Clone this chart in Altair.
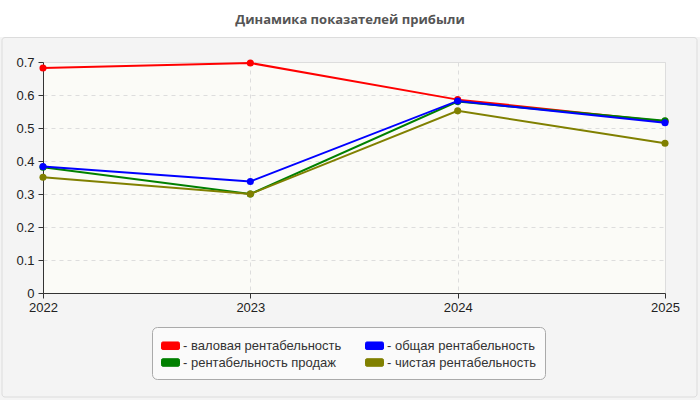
import altair as alt
import pandas as pd

years = [2022, 2023, 2024, 2025]
series_names = [
    "валовая рентабельность",
    "общая рентабельность",
    "рентабельность продаж",
    "чистая рентабельность",
]
series_colors = ["#ff0000", "#0000ff", "#008000", "#808000"]
gross = [0.682, 0.697, 0.586, 0.520]
overall = [0.383, 0.338, 0.582, 0.516]
sales = [0.381, 0.300, 0.580, 0.522]
net = [0.351, 0.300, 0.552, 0.454]
y_ticks = [0, 0.1, 0.2, 0.3, 0.4, 0.5, 0.6, 0.7]
title_text = "Динамика показателей прибыли"

values = {
    series_names[0]: gross,
    series_names[1]: overall,
    series_names[2]: sales,
    series_names[3]: net,
}
rows = []
for name, vals in values.items():
    for yr, v in zip(years, vals):
        rows.append({"year": yr, "value": v, "series": name})
df = pd.DataFrame(rows)

W, H = 622, 231
PL, PT = 43, 62

color = alt.Color(
    "series:N",
    scale=alt.Scale(domain=series_names, range=series_colors),
    legend=alt.Legend(
        title=None,
        orient="none",
        legendX=109,
        legendY=265,
        columns=2,
        direction="horizontal",
        labelExpr="'- ' + datum.label",
        labelFont="Liberation Sans",
        labelFontSize=13,
        labelColor="#333333",
        labelOffset=3,
        symbolType="M-0.85,-0.42 L0.85,-0.42 Q1,-0.42 1,-0.25 L1,0.25 Q1,0.42 0.85,0.42 L-0.85,0.42 Q-1,0.42 -1,0.25 L-1,-0.25 Q-1,-0.42 -0.85,-0.42 Z",
        symbolSize=324,
        symbolStrokeWidth=1,
        symbolOpacity=1,
        columnPadding=21,
        rowPadding=0,
        padding=9,
        fillColor="#fafafa",
        strokeColor="#aaaaaa",
        cornerRadius=5,
    ),
)

x = alt.X(
    "year:O",
    scale=alt.Scale(padding=0),
    axis=alt.Axis(
        title=None,
        labelAngle=0,
        labelFont="Liberation Sans",
        labelFontSize=13,
        labelColor="#222222",
        labelPadding=3,
        tickSize=5,
        tickColor="#333333",
        domainColor="#333333",
        grid=True,
        gridDash=[4, 4],
        gridColor="#dddddd",
    ),
)
y = alt.Y(
    "value:Q",
    scale=alt.Scale(domain=[0, 0.7], nice=False),
    axis=alt.Axis(
        title=None,
        values=y_ticks,
        format=".1~f",
        labelFont="Liberation Sans",
        labelFontSize=13,
        labelColor="#222222",
        labelPadding=4,
        tickSize=5,
        tickColor="#333333",
        domainColor="#333333",
        grid=True,
        gridDash=[4, 4],
        gridColor="#dddddd",
    ),
)

one = pd.DataFrame({"a": [0]})
top_band = alt.Chart(one).mark_rect(color="white").encode(
    x=alt.value(-PL), x2=alt.value(700 - PL), y=alt.value(-PT), y2=alt.value(-25)
)
frame = alt.Chart(one).mark_rect(
    fill="transparent", stroke="#dcdcdc", strokeWidth=1, cornerRadius=3
).encode(
    x=alt.value(-41), x2=alt.value(654), y=alt.value(-24.5), y2=alt.value(335)
)
title = alt.Chart(one).mark_text(
    text=title_text,
    font="Open Sans",
    fontSize=13,
    fontWeight="bold",
    color="#555555",
    align="center",
    baseline="middle",
).encode(x=alt.value(350 - PL), y=alt.value(20 - PT))

draw_order = [series_names[0], series_names[2], series_names[3], series_names[1]]
layers = [top_band, frame, title]
for name in draw_order:
    sub = alt.Chart(df).transform_filter(alt.datum.series == name)
    layers.append(sub.mark_line(strokeWidth=2).encode(x=x, y=y, color=color))
    layers.append(
        sub.mark_point(filled=True, size=50, opacity=1).encode(x=x, y=y, color=color)
    )

chart = alt.layer(*layers).properties(
    width=W,
    height=H,
    autosize="none",
    padding={"left": PL, "top": PT, "right": 700 - PL - W, "bottom": 400 - PT - H},
    background="#f4f4f4",
).configure_view(fill="#fbfbf7", stroke="#dddddd")

chart.save("out.html", embed_options={"renderer": "svg", "actions": False})
